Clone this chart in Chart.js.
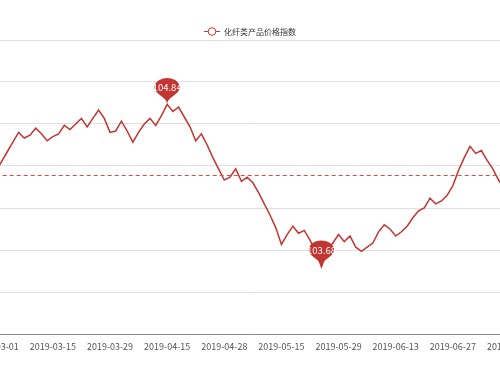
<!DOCTYPE html>
<html><head><meta charset="utf-8">
<script src="https://cdn.jsdelivr.net/npm/chart.js@4.4.0/dist/chart.umd.min.js"></script>
<style>
html,body{margin:0;padding:0;width:500px;height:375px;overflow:hidden;background:#fff;}
#wrap{position:absolute;left:-40px;top:0;width:580px;height:375px;}
</style></head><body>
<div id="wrap"><canvas id="c"></canvas></div>
<script>
const seriesName = '化纤类产品价格指数';
const dates = [
'2019-03-01','2019-03-04','2019-03-05','2019-03-06','2019-03-07','2019-03-08','2019-03-11','2019-03-12','2019-03-13','2019-03-14',
'2019-03-15','2019-03-18','2019-03-19','2019-03-20','2019-03-21','2019-03-22','2019-03-25','2019-03-26','2019-03-27','2019-03-28',
'2019-03-29','2019-04-01','2019-04-02','2019-04-03','2019-04-04','2019-04-08','2019-04-09','2019-04-10','2019-04-11','2019-04-12',
'2019-04-15','2019-04-16','2019-04-17','2019-04-18','2019-04-19','2019-04-22','2019-04-23','2019-04-24','2019-04-25','2019-04-26',
'2019-04-28','2019-04-29','2019-04-30','2019-05-06','2019-05-07','2019-05-08','2019-05-09','2019-05-10','2019-05-13','2019-05-14',
'2019-05-15','2019-05-16','2019-05-17','2019-05-20','2019-05-21','2019-05-22','2019-05-23','2019-05-24','2019-05-27','2019-05-28',
'2019-05-29','2019-05-30','2019-05-31','2019-06-03','2019-06-04','2019-06-05','2019-06-06','2019-06-10','2019-06-11','2019-06-12',
'2019-06-13','2019-06-14','2019-06-17','2019-06-18','2019-06-19','2019-06-20','2019-06-21','2019-06-24','2019-06-25','2019-06-26',
'2019-06-27','2019-06-28','2019-07-01','2019-07-02','2019-07-03','2019-07-04','2019-07-05','2019-07-08','2019-07-09','2019-07-10',
'2019-07-11'
];
const priceIndex = [
104.36,104.43,104.50,104.57,104.64,104.60,104.62,104.67,104.63,104.58,
104.61,104.63,104.69,104.66,104.70,104.74,104.68,104.74,104.80,104.74,
104.64,104.65,104.72,104.65,104.57,104.64,104.70,104.74,104.69,104.76,
104.84,104.79,104.82,104.75,104.68,104.58,104.63,104.55,104.46,104.38,
104.30,104.32,104.38,104.29,104.32,104.28,104.21,104.13,104.05,103.96,
103.84,103.91,103.97,103.92,103.94,103.87,103.79,103.68,103.79,103.85,
103.91,103.86,103.90,103.82,103.79,103.82,103.85,103.93,103.98,103.95,
103.90,103.93,103.97,104.03,104.08,104.10,104.17,104.13,104.15,104.19,
104.26,104.37,104.46,104.54,104.49,104.51,104.44,104.38,104.30,104.24,
104.21
];
const yMin = 103.2, yMax = 105.3, yStep = 0.3;
const labelEvery = 10;

const lineColor = '#c23531';
const avgColor = '#d0504c';
const gridColor = '#e0e0e0';
const axisColor = '#8a8a8a';
const fontFamily = '"Noto Sans CJK SC", "Noto Sans", sans-serif';

function drawPin(ctx, px, py, text) {
  const S = 42, sy = 0.72;
  const w = S * 0.6, h = S, r = w / 2;
  const dy = r * r / (h - r);
  const cy = -h + r + dy;
  const angle = Math.asin(dy / r);
  const dx = Math.cos(angle) * r;
  const tanX = Math.sin(angle), tanY = Math.cos(angle);
  const cp = r * 0.6, cp2 = r * 0.7;
  const tipY = py;
  ctx.save();
  ctx.translate(px, tipY);
  ctx.scale(1, sy);
  ctx.beginPath();
  ctx.moveTo(-dx, cy + dy);
  ctx.arc(0, cy, r, Math.PI - angle, Math.PI * 2 + angle);
  ctx.bezierCurveTo(dx - tanX * cp, cy + dy + tanY * cp, 0, -cp2, 0, 0);
  ctx.bezierCurveTo(0, -cp2, -dx + tanX * cp, cy + dy + tanY * cp, -dx, cy + dy);
  ctx.closePath();
  ctx.fillStyle = lineColor;
  ctx.fill();
  ctx.restore();
  ctx.save();
  ctx.fillStyle = '#fff';
  ctx.font = '9.5px ' + fontFamily;
  ctx.textAlign = 'center';
  ctx.textBaseline = 'middle';
  ctx.fillText(text, px, tipY + cy * sy + 0.5);
  ctx.restore();
}

const markPlugin = {
  id: 'marks',
  afterDatasetsDraw(chart) {
    const { ctx, chartArea, scales } = chart;
    const x = scales.x, y = scales.y;
    const data = chart.data.datasets[0].data;
    const avg = data.reduce((a, b) => a + b, 0) / data.length;
    const ay = Math.round(y.getPixelForValue(avg)) + 0.5;
    ctx.save();
    ctx.beginPath();
    ctx.rect(chartArea.left, chartArea.top, chartArea.right - chartArea.left, chartArea.bottom - chartArea.top);
    ctx.clip();
    ctx.setLineDash([4, 3]);
    ctx.strokeStyle = avgColor;
    ctx.lineWidth = 1;
    ctx.beginPath();
    ctx.moveTo(x.getPixelForValue(0), ay);
    ctx.lineTo(x.getPixelForValue(data.length - 1), ay);
    ctx.stroke();
    ctx.restore();

    let iMax = 0, iMin = 0;
    data.forEach((v, i) => { if (v > data[iMax]) iMax = i; if (v < data[iMin]) iMin = i; });
    drawPin(ctx, x.getPixelForValue(iMax), y.getPixelForValue(data[iMax]), data[iMax].toFixed(2));
    drawPin(ctx, x.getPixelForValue(iMin), y.getPixelForValue(data[iMin]), data[iMin].toFixed(2));
  },
  afterDraw(chart) {
    const ctx = chart.ctx;
    const name = chart.data.datasets[0].label;
    ctx.save();
    ctx.font = '8px ' + fontFamily;
    const tw = ctx.measureText(name).width;
    const iconW = 16, gap = 4;
    const total = iconW + gap + tw;
    const sx = chart.width / 2 - total / 2;
    const ly = 31;
    ctx.strokeStyle = lineColor;
    ctx.lineWidth = 1;
    ctx.beginPath();
    ctx.moveTo(sx, ly + 0.5);
    ctx.lineTo(sx + iconW, ly + 0.5);
    ctx.stroke();
    ctx.beginPath();
    ctx.arc(sx + iconW / 2, ly + 0.5, 3.8, 0, Math.PI * 2);
    ctx.fillStyle = '#fff';
    ctx.fill();
    ctx.stroke();
    ctx.fillStyle = '#333';
    ctx.textAlign = 'left';
    ctx.textBaseline = 'middle';
    ctx.fillText(name, sx + iconW + gap, ly + 0.5);
    ctx.restore();
  }
};

new Chart(document.getElementById('c').getContext('2d'), {
  type: 'line',
  data: {
    labels: dates,
    datasets: [{
      label: seriesName,
      data: priceIndex,
      borderColor: lineColor,
      borderWidth: 1.5,
      pointRadius: 0,
      tension: 0,
      fill: false
    }]
  },
  options: {
    responsive: true,
    maintainAspectRatio: false,
    animation: false,
    events: [],
    layout: { padding: { top: 40, left: 32.86, right: 27.14, bottom: 0 } },
    plugins: { legend: { display: false }, tooltip: { enabled: false } },
    scales: {
      x: {
        offset: true,
        grid: {
          offset: true,
          drawOnChartArea: false,
          drawTicks: true,
          tickLength: 4,
          tickColor: c => (c.index % labelEvery === 0 ? axisColor : 'rgba(0,0,0,0)')
        },
        border: { display: true, color: axisColor, width: 1 },
        ticks: {
          autoSkip: false,
          maxRotation: 0,
          minRotation: 0,
          padding: 3,
          color: '#555',
          font: { family: fontFamily, size: 9 },
          callback: (v, i) => (i % labelEvery === 0 ? dates[i] : null)
        },
        afterFit: s => { s.height = 41; }
      },
      y: {
        min: yMin,
        max: yMax,
        ticks: { display: false, stepSize: yStep },
        grid: {
          drawTicks: false,
          color: c => (c.tick && Math.abs(c.tick.value - yMin) < 1e-9 ? 'rgba(0,0,0,0)' : gridColor)
        },
        border: { display: false },
        afterFit: s => { s.width = 0; }
      }
    }
  },
  plugins: [markPlugin]
});
</script>
</body></html>
